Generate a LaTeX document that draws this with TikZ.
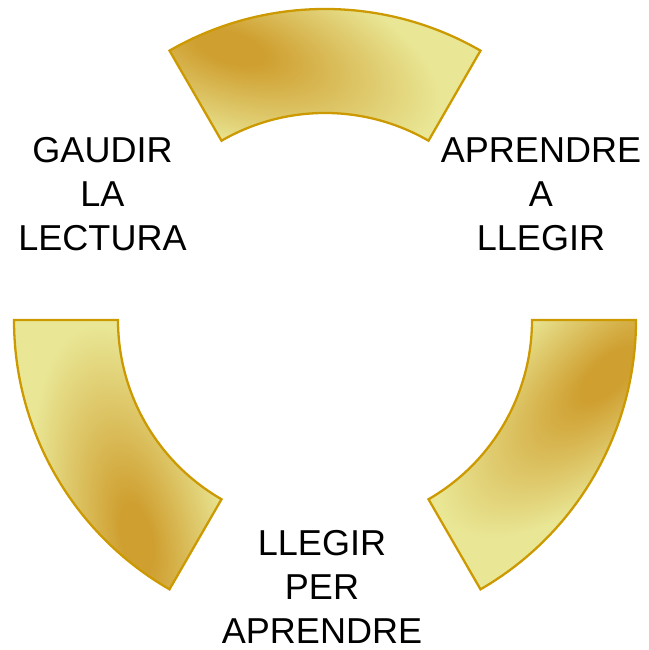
\documentclass[tikz,border=0pt]{standalone}
\usepackage{fontspec}
\setmainfont{Liberation Sans}
\definecolor{golddark}{HTML}{CF9F30}
\definecolor{goldlight}{HTML}{E9E796}
\definecolor{goldline}{HTML}{CC9900}
\pgfdeclareradialshading{goldspot}{\pgfpoint{0cm}{0cm}}{color(0bp)=(golddark); color(4bp)=(golddark); color(25bp)=(goldlight); color(50bp)=(goldlight)}
\tikzstyle{segline}=[draw=goldline, line width=1.3pt, line join=miter]
\tikzstyle{stagetext}=[align=center, inner sep=0pt, font=\fontsize{20.5}{25}\selectfont]

\begin{document}
\begin{tikzpicture}
    \useasboundingbox (0,0) rectangle (12.96,13);
    \coordinate (C) at (6.5,6.6);
    \foreach \k in {0,1,2} {
        \begin{scope}[transform canvas={rotate around={120*\k:(C)}}]
            \begin{scope}
                \clip [shift={(C)}] (60:6.22) arc [start angle=60, end angle=120, radius=6.22] -- (120:4.14) arc [start angle=120, end angle=60, radius=4.14] -- cycle;
                \fill [goldlight] (C) circle (6.5);
                \begin{scope}[transform canvas={rotate around={-17:(4.6,12.05)}}]
                    \shade [shading=goldspot] (4.6,12.05) ellipse (4.4 and 1.9);
                \end{scope}
            \end{scope}
            \draw [segline, shift={(C)}] (60:6.22) arc [start angle=60, end angle=120, radius=6.22] -- (120:4.14) arc [start angle=120, end angle=60, radius=4.14] -- cycle;
        \end{scope}
    }
    \node [stagetext] (gaudir) at (2.05,9.12) {GAUDIR\\LA\\LECTURA};
    \node [stagetext] (aprendre) at (10.82,9.12) {APRENDRE\\A\\LLEGIR};
    \node [stagetext] (llegir) at (6.44,1.27) {LLEGIR\\PER\\APRENDRE};
\end{tikzpicture}
\end{document}
